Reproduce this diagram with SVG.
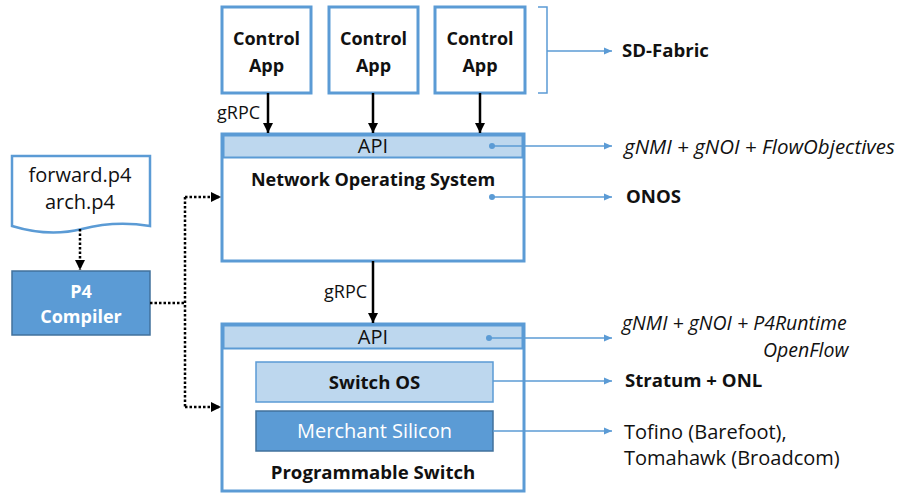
<svg xmlns="http://www.w3.org/2000/svg" width="909" height="500" viewBox="0 0 909 500">
<style>
text{font-family:"Open Sans","DejaVu Sans",sans-serif;font-size:20px;fill:#111}
.b{font-weight:bold;font-size:18.6px}
.c{font-weight:bold;font-size:18px}
.i{font-style:italic;font-size:20.5px}
.i2{font-style:italic;font-size:19.5px}
.w{fill:#fff}
.g{font-size:18px}
.box{fill:#fff;stroke:#5b9bd5;stroke-width:3}
.api{fill:#bdd7ee;stroke:#5b9bd5;stroke-width:2}
.blue{stroke:#5b9bd5;stroke-width:1.5;fill:none}
.blk{stroke:#000;stroke-width:2.5;fill:none}
.dot{stroke:#000;stroke-width:2.5;fill:none;stroke-dasharray:2.5 2}
</style>
<defs>
<marker id="ab" markerWidth="10" markerHeight="10" refX="9" refY="5" orient="auto" markerUnits="userSpaceOnUse"><path d="M1,1.5 L9,5 L1,8.5 Z" fill="#5b9bd5"/></marker>
<marker id="ak" markerWidth="12" markerHeight="12" refX="11" refY="6" orient="auto" markerUnits="userSpaceOnUse"><path d="M1,1 L11,6 L1,11 Z" fill="#000"/></marker>
</defs>

<g id="app1"><rect class="box" x="222" y="7" width="89" height="86"/><text class="c" x="266.5" y="45" text-anchor="middle">Control</text><text class="c" x="266.5" y="72" text-anchor="middle">App</text></g>
<g id="app2"><rect class="box" x="329" y="7" width="89" height="86"/><text class="c" x="373.5" y="45" text-anchor="middle">Control</text><text class="c" x="373.5" y="72" text-anchor="middle">App</text></g>
<g id="app3"><rect class="box" x="435" y="7" width="90" height="86"/><text class="c" x="480" y="45" text-anchor="middle">Control</text><text class="c" x="480" y="72" text-anchor="middle">App</text></g>

<g id="nos"><rect class="box" x="222" y="134" width="302" height="127"/><rect class="api" x="223.5" y="135.5" width="299" height="22"/><text x="373" y="153" text-anchor="middle">API</text><text class="c" x="373" y="186" text-anchor="middle">Network Operating System</text></g>

<g id="switch"><rect class="box" x="222" y="324" width="302" height="167"/><rect class="api" x="223.5" y="325.5" width="299" height="23"/><text x="373" y="344" text-anchor="middle">API</text>
<rect class="api" x="256" y="362" width="237" height="40" style="stroke-width:1.5"/><text class="b" x="374.5" y="389" text-anchor="middle">Switch OS</text>
<rect x="256" y="411" width="237" height="40" fill="#5b9bd5" stroke="#41719c" stroke-width="1.5"/><text class="w" x="374.5" y="438" text-anchor="middle">Merchant Silicon</text>
<text class="b" x="373" y="479" text-anchor="middle">Programmable Switch</text></g>

<g id="doc"><path d="M12,156 H150 V226 C125,222 105,223 82,229 C58,235 35,233 12,226 Z" fill="#fff" stroke="#5b9bd5" stroke-width="2.5"/><text x="80" y="182" text-anchor="middle">forward.p4</text><text x="80" y="209" text-anchor="middle">arch.p4</text></g>

<g id="compiler"><rect x="12" y="271" width="138" height="64" fill="#5b9bd5" stroke="#41719c" stroke-width="1.5"/><text class="c w" x="81" y="298" text-anchor="middle">P4</text><text class="c w" x="81" y="323" text-anchor="middle">Compiler</text></g>

<g id="labels">
<text class="b" x="622" y="57">SD-Fabric</text>
<text class="i" x="624" y="154">gNMI + gNOI + FlowObjectives</text>
<text class="b" x="626" y="203">ONOS</text>
<text class="i2" x="622" y="330">gNMI + gNOI + P4Runtime</text>
<text class="i2" x="763" y="357">OpenFlow</text>
<text class="b" x="625" y="387">Stratum + ONL</text>
<text x="624" y="439">Tofino (Barefoot),<tspan x="624" dy="26">Tomahawk (Broadcom)</tspan></text>
</g>

<g id="connectors">
<path class="blk" d="M268,93 V133" marker-end="url(#ak)"/>
<path class="blk" d="M373,93 V133" marker-end="url(#ak)"/>
<path class="blk" d="M480,93 V133" marker-end="url(#ak)"/>
<text class="g" x="217" y="119">gRPC</text>
<path class="blk" d="M373,261 V323" marker-end="url(#ak)"/>
<text class="g" x="324" y="298">gRPC</text>

<path class="blue" d="M538,7 H547 V93 H538"/>
<path d="M547,51 H612" class="blue" marker-end="url(#ab)"/>
<circle cx="492" cy="146" r="3" fill="#5b9bd5"/><path class="blue" d="M492,146 H612" marker-end="url(#ab)"/>
<circle cx="492" cy="197" r="3" fill="#5b9bd5"/><path class="blue" d="M492,197 H612" marker-end="url(#ab)"/>
<circle cx="489" cy="338" r="3" fill="#5b9bd5"/><path class="blue" d="M489,338 H612" marker-end="url(#ab)"/>
<path class="blue" d="M493,381 H612" marker-end="url(#ab)"/>
<path class="blue" d="M493,431 H612" marker-end="url(#ab)"/>

<path class="dot" d="M80,229 V270" marker-end="url(#ak)"/>
<path class="dot" d="M150,303 H185"/>
<path class="dot" d="M185,197 V407"/>
<path class="dot" d="M185,197 H221" marker-end="url(#ak)"/>
<path class="dot" d="M185,407 H221" marker-end="url(#ak)"/>
</g>
</svg>
